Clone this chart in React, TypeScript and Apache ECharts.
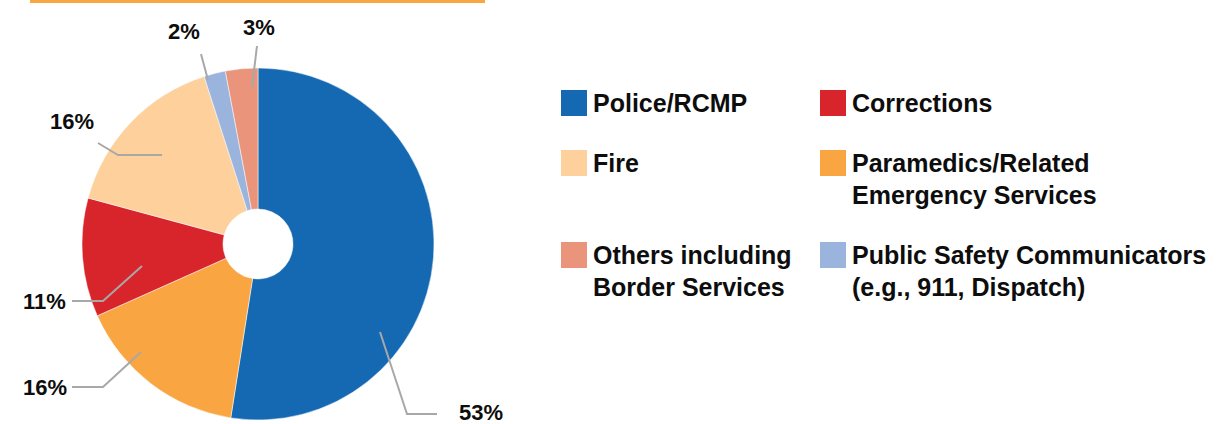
import React, { useEffect, useRef } from "react";
import * as echarts from "echarts";

// ---- data ----
const categories = [
  "Police/RCMP",
  "Paramedics/Related Emergency Services",
  "Corrections",
  "Fire",
  "Public Safety Communicators (e.g., 911, Dispatch)",
  "Others including Border Services",
];
const shares = [53, 16, 11, 16, 2, 3];
const colors = ["#1569b3", "#f9a541", "#d8242b", "#fdd09c", "#9bb4dd", "#e9947b"];

// legend layout (order as in reference, two columns)
const legendLines: Record<string, string[]> = {
  "Police/RCMP": ["Police/RCMP"],
  "Paramedics/Related Emergency Services": ["Paramedics/Related", "Emergency Services"],
  Corrections: ["Corrections"],
  Fire: ["Fire"],
  "Public Safety Communicators (e.g., 911, Dispatch)": ["Public Safety Communicators", "(e.g., 911, Dispatch)"],
  "Others including Border Services": ["Others including", "Border Services"],
};
const legendSlots = [
  { name: "Police/RCMP", left: 559, cy: 103 },
  { name: "Corrections", left: 818, cy: 103 },
  { name: "Fire", left: 559, cy: 163 },
  { name: "Paramedics/Related Emergency Services", left: 818, cy: 163 },
  { name: "Others including Border Services", left: 559, cy: 255 },
  { name: "Public Safety Communicators (e.g., 911, Dispatch)", left: 818, cy: 255 },
];

// label placement (annotation layout, per slice)
const labelPlaces = [
  { x: 459, y: 412, line: [[380, 332], [407, 414], [437, 414]] },
  { x: 23, y: 387, line: [[141, 352], [103, 387], [72, 387]] },
  { x: 23, y: 301, line: [[142, 266], [103, 301], [72, 301]] },
  { x: 50, y: 121, line: [[162, 155], [118, 155], [98, 143]] },
  { x: 168, y: 31, line: [[208, 80], [201, 54]] },
  { x: 243, y: 27, line: [[252, 87], [257, 46]] },
];

const FONT = "'Liberation Sans', Arial, sans-serif";

export default function App() {
  const ref = useRef<HTMLDivElement>(null);
  useEffect(() => {
    if (!ref.current) return;
    const chart = echarts.init(ref.current, undefined, { renderer: "svg" });
    const legends = legendSlots.map((s) => ({
      data: [s.name],
      left: s.left,
      top: s.cy - 48,
      padding: 0,
      orient: "vertical",
      icon: "rect",
      itemWidth: 28,
      itemHeight: 28,
      itemGap: 0,
      selectedMode: false,
      formatter: (n: string) => {
        const l = legendLines[n];
        return "\n" + l[0] + "\n" + (l[1] || " ");
      },
      textStyle: {
        fontFamily: FONT,
        fontSize: 25,
        fontWeight: "bold",
        color: "#0d0d0d",
        lineHeight: 32,
      },
    }));
    const leaderLines = labelPlaces.map((L) => ({
      type: "polyline",
      z: 100,
      shape: { points: L.line },
      style: { stroke: "#a8a8a8", lineWidth: 2, fill: null },
      silent: true,
    }));
    chart.setOption({
      animation: false,
      legend: legends,
      graphic: [
        {
          type: "rect",
          shape: { x: 30, y: 0, width: 455, height: 3 },
          style: { fill: "#f9a541" },
        },
        ...leaderLines,
      ],
      series: [
        {
          type: "pie",
          center: [258, 244],
          radius: [35, 176],
          startAngle: 90,
          clockwise: true,
          avoidLabelOverlap: false,
          itemStyle: { borderColor: "#fff", borderWidth: 0.5 },
          emphasis: { disabled: true },
          label: {
            show: true,
            position: "outside",
            formatter: "{c}%",
            fontFamily: FONT,
            fontSize: 22,
            fontWeight: "bold",
            color: "#0d0d0d",
          },
          labelLine: { show: false },
          labelLayout: (p: any) => {
            const L = labelPlaces[p.dataIndex];
            return {
              x: L.x,
              y: L.y,
              align: "left",
              verticalAlign: "middle",
            };
          },
          data: categories.map((c, i) => ({
            name: c,
            value: shares[i],
            itemStyle: { color: colors[i] },
          })),
        },
      ],
    });
    return () => chart.dispose();
  }, []);
  return (
    <div
      ref={ref}
      style={{ position: "fixed", left: 0, top: 0, width: 1231, height: 424, background: "#fff" }}
    />
  );
}
